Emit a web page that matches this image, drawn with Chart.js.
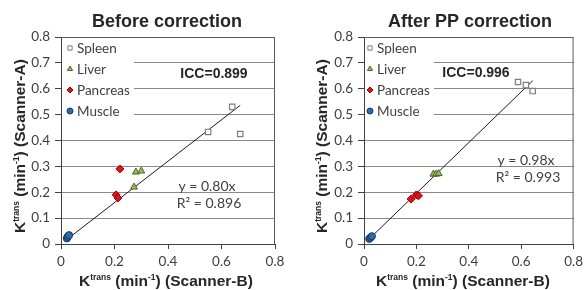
<!DOCTYPE html>
<html>
<head>
<meta charset="utf-8">
<script src="https://cdn.jsdelivr.net/npm/chart.js@4.4.1/dist/chart.umd.min.js"></script>
<style>
    body { margin: 0; background: #fff; }
    .box { position: absolute; top: 0; width: 294px; height: 290px; }
</style>
</head>
<body>
<div class="box" style="left:0"><canvas id="before" width="294" height="290"></canvas></div>
<div class="box" style="left:294px"><canvas id="after" width="294" height="290"></canvas></div>
<script>
// categories and tick labels
const categories = ['Spleen', 'Liver', 'Pancreas', 'Muscle'];
const xTicks = [0, 0.2, 0.4, 0.6, 0.8];
const yTicks = [0, 0.1, 0.2, 0.3, 0.4, 0.5, 0.6, 0.7, 0.8];

// Before correction (x = Scanner-B, y = Scanner-A)
const spleenBeforeX = [0.55, 0.64, 0.67];
const spleenBeforeY = [0.433, 0.53, 0.425];
const liverBeforeX = [0.28, 0.30, 0.273];
const liverBeforeY = [0.278, 0.282, 0.22];
const pancreasBeforeX = [0.22, 0.206, 0.213];
const pancreasBeforeY = [0.29, 0.19, 0.178];
const muscleBeforeX = [0.022, 0.025, 0.03];
const muscleBeforeY = [0.022, 0.028, 0.034];

// After PP correction
const spleenAfterX = [0.588, 0.618, 0.644];
const spleenAfterY = [0.626, 0.614, 0.591];
const liverAfterX = [0.265, 0.275, 0.285];
const liverAfterY = [0.27, 0.27, 0.272];
const pancreasAfterX = [0.18, 0.2, 0.208];
const pancreasAfterY = [0.174, 0.19, 0.186];
const muscleAfterX = [0.02, 0.025, 0.03];
const muscleAfterY = [0.02, 0.025, 0.03];

// linear fits through origin: slope, x range of the drawn line
const fitSlopes = [0.80, 0.98];
const fitBeforeX = [0.025, 0.67];
const fitAfterX = [0.02, 0.644];
const fitLabels = ['y = 0.80x', 'y = 0.98x'];
const r2Labels = ['R² = 0.896', 'R² = 0.993'];
const iccLabels = ['ICC=0.899', 'ICC=0.996'];
const titles = ['Before correction', 'After PP correction'];

const sansBold = '"Liberation Sans", Arial, sans-serif';
const bodyFont = 'Lato, "Open Sans", sans-serif';
const textGrey = '#404040';

const markers = {
    Spleen: { pointStyle: 'rect', radius: 3.8, bg: '#fafafa', border: '#7f7f7f', bw: 1.2 },
    Liver: { pointStyle: 'triangle', radius: 4, bg: '#9bbb59', border: '#4f6228', bw: 1 },
    Pancreas: { pointStyle: 'rectRot', radius: 4, bg: '#d9151b', border: '#9a0000', bw: 1 },
    Muscle: { pointStyle: 'circle', radius: 3.6, bg: '#2a6cb0', border: '#17375e', bw: 1 }
};

function pts(xs, ys) {
    return xs.map((x, i) => ({ x: x, y: ys[i] }));
}

function drawRich(ctx, parts, x, y, rotate) {
    ctx.save();
    ctx.translate(x, y);
    if (rotate) ctx.rotate(-Math.PI / 2);
    ctx.textAlign = 'left';
    ctx.textBaseline = 'alphabetic';
    ctx.fillStyle = '#262626';
    let cx = 0;
    parts.forEach(p => {
        ctx.font = p.font;
        ctx.fillText(p.t, cx, p.dy || 0);
        cx += ctx.measureText(p.t).width;
    });
    ctx.restore();
}

function axisTitle(letter) {
    const big = 'bold 15.5px ' + sansBold;
    const small = 'bold 8.5px ' + sansBold;
    return [
        { t: 'K', font: big },
        { t: 'trans', font: small, dy: -6 },
        { t: ' (min', font: big },
        { t: '-1', font: small, dy: -6 },
        { t: ') (Scanner-' + letter + ')', font: big }
    ];
}

function decorPlugin(cfg) {
    return {
        id: 'decor',
        beforeDatasetsDraw(chart) {
            const ctx = chart.ctx;
            const a = chart.chartArea;
            ctx.save();
            // frame top and right
            ctx.strokeStyle = '#595959';
            ctx.lineWidth = 1;
            ctx.beginPath();
            ctx.moveTo(a.left, a.top + 0.5);
            ctx.lineTo(a.right - 0.5, a.top + 0.5);
            ctx.lineTo(a.right - 0.5, a.bottom);
            ctx.stroke();

            // legend
            ctx.font = '13.5px ' + bodyFont;
            const widest = Math.max(...categories.map(c => ctx.measureText(c).width));
            ctx.fillStyle = '#fff';
            ctx.fillRect(a.left + 1, a.top + 1.5, cfg.legendText - a.left + widest + 3, 82);
            categories.forEach((c, i) => {
                const m = markers[c];
                const y = 48 + i * 21;
                ctx.fillStyle = m.bg;
                ctx.strokeStyle = m.border;
                ctx.lineWidth = 1;
                Chart.helpers.drawPoint(ctx, { pointStyle: m.pointStyle, radius: 3, rotation: 0, borderWidth: 1 }, cfg.legendMarker, y);
                ctx.fillStyle = textGrey;
                ctx.textAlign = 'left';
                ctx.textBaseline = 'middle';
                ctx.fillText(c, cfg.legendText, y + 1);
            });

            // ICC and fit equation
            ctx.fillStyle = '#262626';
            ctx.textAlign = 'center';
            ctx.textBaseline = 'alphabetic';
            ctx.font = 'bold 14px ' + sansBold;
            ctx.fillText(iccLabels[cfg.idx], cfg.icc[0], cfg.icc[1]);
            ctx.fillStyle = textGrey;
            ctx.font = '14px ' + bodyFont;
            ctx.fillText(fitLabels[cfg.idx], cfg.eq[0], cfg.eq[1]);
            ctx.fillText(r2Labels[cfg.idx], cfg.eq[0] + 2, cfg.eq[1] + 17);
            ctx.restore();
        },
        afterDraw(chart) {
            const ctx = chart.ctx;
            ctx.save();
            ctx.fillStyle = '#262626';
            ctx.textAlign = 'center';
            ctx.textBaseline = 'alphabetic';
            ctx.font = 'bold 18px ' + sansBold;
            ctx.fillText(titles[cfg.idx], cfg.titleX, 27);
            ctx.restore();
            drawRich(ctx, axisTitle('B'), cfg.xTitleX, 286, false);
            drawRich(ctx, axisTitle('A'), cfg.yTitleX, 233, true);
        }
    };
}

function makeChart(canvas, series, fitX, cfg) {
    const datasets = categories.map((c, i) => {
        const m = markers[c];
        return {
            label: c,
            data: pts(series[i][0], series[i][1]),
            pointStyle: m.pointStyle,
            pointRadius: m.radius,
            pointBackgroundColor: m.bg,
            pointBorderColor: m.border,
            pointBorderWidth: m.bw,
            showLine: false
        };
    });
    datasets.push({
        label: 'fit',
        data: fitX.map(x => ({ x: x, y: fitSlopes[cfg.idx] * x })),
        showLine: true,
        borderColor: '#1a1a1a',
        borderWidth: 1,
        pointRadius: 0
    });

    return new Chart(canvas, {
        type: 'scatter',
        data: { datasets: datasets },
        options: {
            responsive: false,
            animation: false,
            devicePixelRatio: 1,
            layout: { padding: { top: 37, right: cfg.padRight, left: 0, bottom: 0 } },
            plugins: { legend: { display: false }, tooltip: { enabled: false }, title: { display: false } },
            scales: {
                x: {
                    type: 'linear',
                    min: 0,
                    max: 0.8,
                    afterBuildTicks: s => { s.ticks = xTicks.map(v => ({ value: v })); },
                    afterFit: s => { s.height = 46; },
                    ticks: {
                        color: textGrey,
                        font: { family: bodyFont, size: 13.5 },
                        padding: 5,
                        callback: v => v === 0 ? '0' : v.toFixed(1)
                    },
                    grid: { drawOnChartArea: false, drawTicks: true, tickLength: 5, tickColor: '#404040' },
                    border: { color: '#404040', width: 1 }
                },
                y: {
                    type: 'linear',
                    min: 0,
                    max: 0.8,
                    afterBuildTicks: s => { s.ticks = yTicks.map(v => ({ value: v })); },
                    afterFit: s => { s.width = cfg.yWidth; },
                    ticks: {
                        color: textGrey,
                        font: { family: bodyFont, size: 13.5 },
                        padding: 5,
                        callback: v => v === 0 ? '0' : v.toFixed(1)
                    },
                    grid: { color: '#8a8a8a', lineWidth: 1, tickLength: 6, tickColor: '#404040' },
                    border: { color: '#404040', width: 1 }
                }
            }
        },
        plugins: [decorPlugin(cfg)]
    });
}

makeChart(document.getElementById('before'), [
    [spleenBeforeX, spleenBeforeY],
    [liverBeforeX, liverBeforeY],
    [pancreasBeforeX, pancreasBeforeY],
    [muscleBeforeX, muscleBeforeY]
], fitBeforeX, {
    idx: 0, yWidth: 61, padRight: 19,
    legendMarker: 70, legendText: 77,
    icc: [214, 78], eq: [207, 191],
    titleX: 167, xTitleX: 79, yTitleX: 25
});

makeChart(document.getElementById('after'), [
    [spleenAfterX, spleenAfterY],
    [liverAfterX, liverAfterY],
    [pancreasAfterX, pancreasAfterY],
    [muscleAfterX, muscleAfterY]
], fitAfterX, {
    idx: 1, yWidth: 70, padRight: 9,
    legendMarker: 76, legendText: 83,
    icc: [182, 77], eq: [232, 165],
    titleX: 176, xTitleX: 82, yTitleX: 33
});
</script>
</body>
</html>
